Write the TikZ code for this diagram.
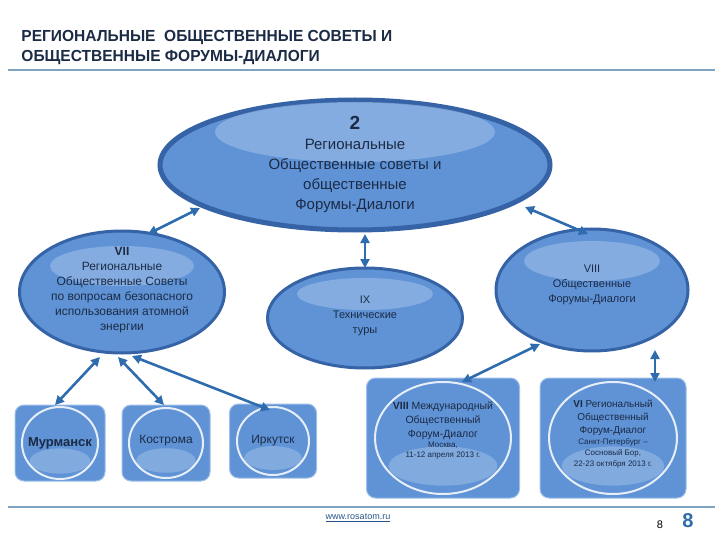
\documentclass[tikz,border=0pt]{standalone}
\usepackage{fontspec}
\setmainfont{Liberation Sans}
\usetikzlibrary{shapes.geometric,arrows.meta}
\definecolor{fillb}{HTML}{5F93D6}
\definecolor{rimb}{HTML}{3563A6}
\definecolor{hib}{HTML}{9DBEE8}
\definecolor{arrb}{HTML}{2F6CAE}
\definecolor{txt}{HTML}{1C2B45}
\definecolor{rule}{HTML}{7FA3C3}
\begin{document}
\begin{tikzpicture}[x=1pt,y=-1pt,
  oval/.style={ellipse,draw=rimb,line width=3pt,fill=fillb,inner sep=0pt,text=txt,align=center},
  tile/.style={rounded corners=9pt,fill=fillb,draw=hib,line width=1pt,inner sep=0pt,text=txt,align=center},
  dbl/.style={arrb,line width=2.6pt,{Triangle[length=9pt,width=9pt]}-{Triangle[length=9pt,width=9pt]}}]
\useasboundingbox (0,0) rectangle (720,540);
\node[anchor=west,text=txt,align=left,font=\bfseries\fontsize{16}{20}\selectfont,xscale=0.97] (title) at (18,48)
 {РЕГИОНАЛЬНЫЕ \ ОБЩЕСТВЕННЫЕ СОВЕТЫ И\\ОБЩЕСТВЕННЫЕ ФОРУМЫ-ДИАЛОГИ};
\draw[rule,line width=1.5pt] (8,70) -- (715,70);
\draw[rule,line width=1.5pt] (8,507) -- (715,507);

\node[oval,minimum width=390,minimum height=130,line width=5pt] (main) at (355,165) {};
\fill[hib,opacity=0.6] (355,132) ellipse (140 and 30);
\node[text=txt,align=center,font=\fontsize{15}{20}\selectfont] (maint) at (355,164)
 {\textbf{\fontsize{19}{20}\selectfont 2}\\Региональные\\Общественные советы и\\общественные\\Форумы-Диалоги};

\node[oval,minimum width=205,minimum height=122] (vii) at (122,292) {};
\fill[hib,opacity=0.6] (122,266) ellipse (72 and 20);
\node[text=txt,align=center,font=\fontsize{12}{15}\selectfont] (viit) at (122,290)
 {\textbf{VII}\\Региональные\\Общественные Советы\\по вопросам безопасного\\использования атомной\\энергии};

\node[oval,minimum width=195,minimum height=100] (ix) at (365,318) {};
\fill[hib,opacity=0.6] (365,294) ellipse (68 and 16);
\node[text=txt,align=center,font=\fontsize{11}{15}\selectfont] (ixt) at (365,316)
 {IX\\Технические\\туры};

\node[oval,minimum width=192,minimum height=122] (viii) at (592,290) {};
\fill[hib,opacity=0.6] (592,261) ellipse (68 and 20);
\node[text=txt,align=center,font=\fontsize{11}{15}\selectfont] (viiit) at (592,285)
 {VIII\\Общественные\\Форумы-Диалоги};

\node[tile,minimum width=90,minimum height=76] (mur) at (60,443) {};
\node[tile,minimum width=88,minimum height=76] (kos) at (166,443) {};
\node[tile,minimum width=87,minimum height=74] (irk) at (273,441) {};
\node[tile,minimum width=153,minimum height=120] (mos) at (443,438) {};
\node[tile,minimum width=146,minimum height=120] (spb) at (613,438) {};
\foreach \n/\rx/\ry in {mur/38/36,kos/37/35,irk/36/34,mos/68/56,spb/64/56}{
  \fill[hib,opacity=0.55] ([yshift=-\ry*0.5pt]\n.center) ellipse (\rx*0.8pt and \ry*0.35pt);
  \draw[white,opacity=0.85,line width=2pt] (\n) ellipse (\rx pt and \ry pt);
}
\node[text=txt,font=\bfseries\fontsize{13}{15}\selectfont] at (mur) {Мурманск};
\node[text=txt,font=\fontsize{12}{14}\selectfont] at ([yshift=2]kos.center) {Кострома};
\node[text=txt,font=\fontsize{12}{14}\selectfont] at (irk) {Иркутск};
\node[text=txt,align=center,font=\fontsize{10.5}{14}\selectfont] at ([yshift=8]mos.center)
 {\textbf{VIII} Международный\\Общественный\\Форум-Диалог\\[-4pt]{\fontsize{8}{9}\selectfont Москва,}\\[-4pt]{\fontsize{8}{10}\selectfont 11-12 апреля 2013 г.}};
\node[text=txt,align=center,font=\fontsize{10}{13}\selectfont] at ([yshift=4]spb.center)
 {\textbf{VI} Региональный\\Общественный\\Форум-Диалог\\[-2pt]{\fontsize{8}{10}\selectfont Санкт-Петербург –}\\[-2pt]{\fontsize{8}{10}\selectfont Сосновый Бор,}\\[-2pt]{\fontsize{8}{10}\selectfont 22-23 октября 2013 г.}};

\draw[dbl] (148,234) -- (200,208);
\draw[dbl] (365,234) -- (365,268);
\draw[dbl] (525,207) -- (588,234);
\draw[dbl] (100,357) -- (55,405);
\draw[dbl] (118,357) -- (164,405);
\draw[dbl] (132,356) -- (270,410);
\draw[dbl] (540,344) -- (462,382);
\draw[dbl] (655,350) -- (655,382);

\node[text=arrb!80!black,font=\fontsize{9}{10}\selectfont] (url) at (358,518) {\underline{www.rosatom.ru}};
\node[text=black,font=\fontsize{11}{12}\selectfont] (p1) at (660,525) {8};
\node[text=arrb,font=\bfseries\fontsize{20}{20}\selectfont] (p2) at (688,521) {8};
\end{tikzpicture}
\end{document}
